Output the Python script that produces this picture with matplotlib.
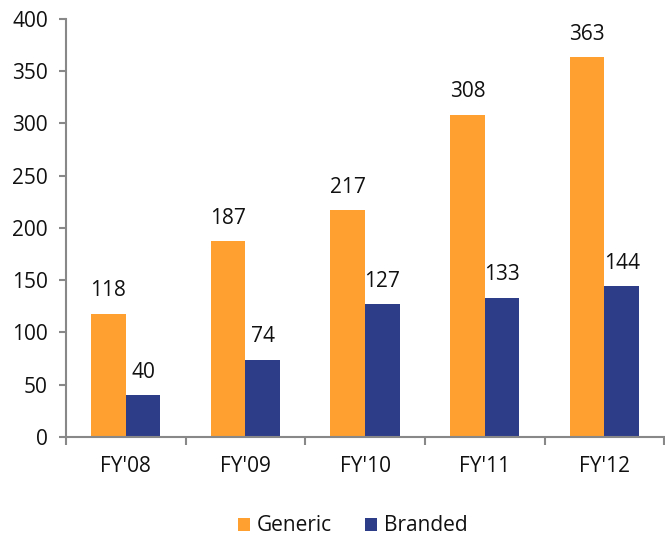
import numpy as np
import matplotlib.pyplot as plt

years = ["FY'08", "FY'09", "FY'10", "FY'11", "FY'12"]
generic = [118, 187, 217, 308, 363]
branded = [40, 74, 127, 133, 144]

plt.rcParams['font.family'] = ['Open Sans', 'DejaVu Sans']

fig = plt.figure(figsize=(6.65, 5.38), dpi=100)
ax = fig.add_axes([0.099, 0.188, 0.9, 0.777])

x = np.arange(len(years))
w = 0.29
b1 = ax.bar(x - w/2, generic, w, color='#FFA030', label='Generic')
b2 = ax.bar(x + w/2, branded, w, color='#2E3D88', label='Branded')

for bars in (b1, b2):
	for r in bars:
		ax.text(r.get_x() + r.get_width()/2, r.get_height() + 12, str(int(r.get_height())),
				ha='center', va='bottom', fontsize=15, color='#111111')

ax.set_xlim(-0.5, len(years) - 0.5)
ax.set_ylim(0, 400)
ax.set_yticks(range(0, 401, 50))
ax.tick_params(axis='y', labelsize=15, length=5, width=1.5, color='#888888', pad=8,
			   labelcolor='#111111')
ax.set_xticks(x)
ax.set_xticklabels(years)
ax.set_xticks(np.arange(-0.5, len(years)), minor=True)
ax.tick_params(axis='x', which='major', length=0, labelsize=15, pad=14, labelcolor='#111111')
ax.tick_params(axis='x', which='minor', length=6, width=1.5, color='#888888')

for s in ('top', 'right'):
	ax.spines[s].set_visible(False)
for s in ('left', 'bottom'):
	ax.spines[s].set_color('#888888')
	ax.spines[s].set_linewidth(1.5)

fig.legend(loc='lower center', bbox_to_anchor=(0.53, -0.032), ncol=2, frameon=False,
		   fontsize=15, handlelength=0.6, handleheight=0.6, handletextpad=0.3,
		   columnspacing=1.6, labelcolor='#111111')

fig.savefig('out.png', dpi=100)
